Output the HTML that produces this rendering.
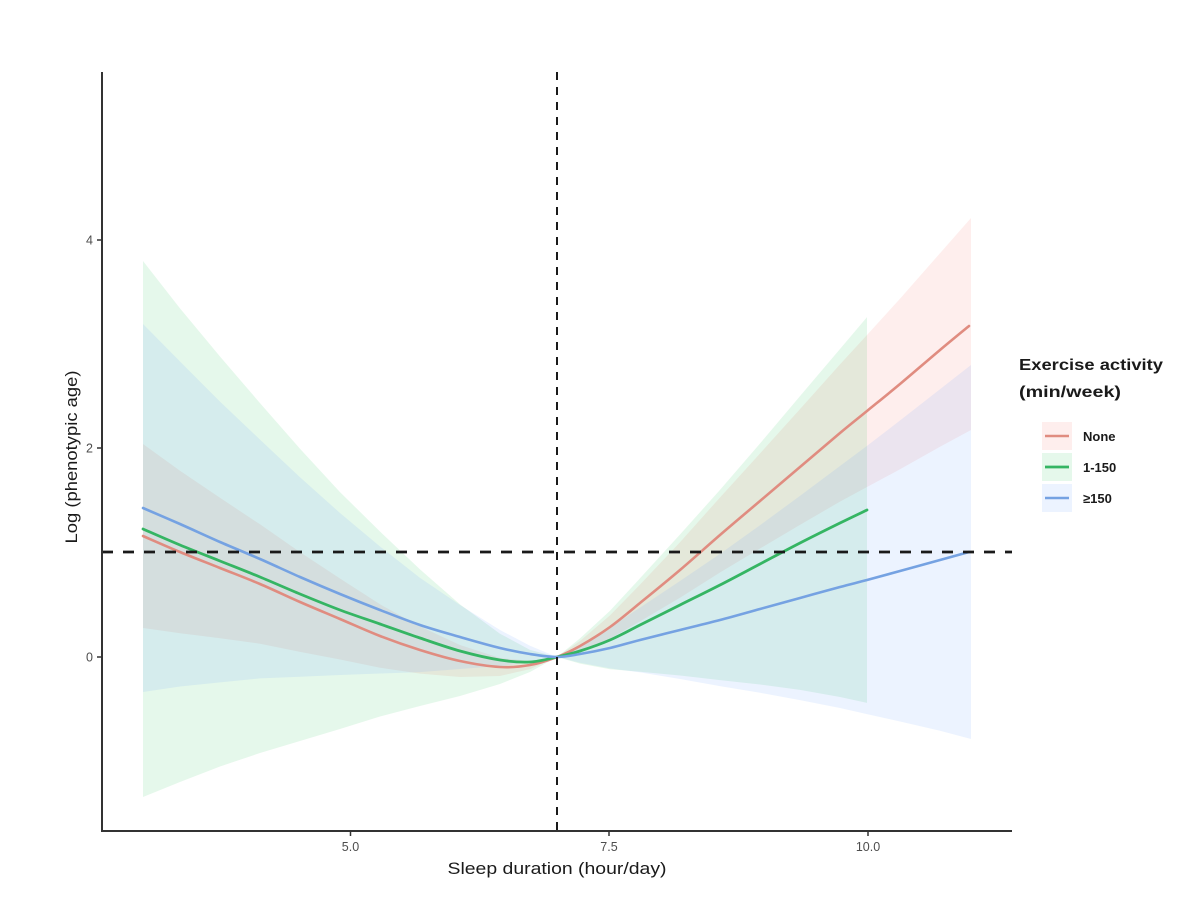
<!DOCTYPE html>
<html>
<head>
<meta charset="utf-8">
<style>
  html, body { margin: 0; padding: 0; background: #ffffff; }
  svg { display: block; }
  text { font-family: "Liberation Sans", "DejaVu Sans", sans-serif; }
</style>
</head>
<body>
<svg id="chart" width="1200" height="923" viewBox="0 0 1200 923" xmlns="http://www.w3.org/2000/svg">
  <rect x="0" y="0" width="1200" height="923" fill="#ffffff"/>

  <!-- Confidence bands -->
  <polygon fill="#F8766D" fill-opacity="0.12" points="143,444 180,470.8 220,497.8 260,524.3 300,552.1 340,578.5 380,604.3 420,626.4 460,645 500,658 530,660.9 557,657 580,641 610,615.4 640,584.6 680,542.2 720,497.5 760,453.5 800,409.1 840,364.4 867,335 900,298.7 940,253.2 971,218 971,430 940,446.8 900,469.3 867,487 840,501.6 800,524.9 760,548.5 720,572.5 680,597.8 640,621.4 610,638.6 580,651 557,657 530,669.1 500,676 460,677 420,673.6 380,667.7 340,659.5 300,651.9 260,643.7 220,638.2 180,633.2 143,628"/>
  <polygon fill="#00BA38" fill-opacity="0.10" points="143,261 180,308.4 220,356.5 260,403.1 300,448.7 340,492.1 380,531.5 420,569.4 460,604.4 500,633.7 530,649.9 557,657 580,638.4 610,610.7 640,578.3 680,534.5 720,489.9 760,443.5 800,396.1 840,349 867,317.1 867,702.9 840,697 800,689.9 760,684.5 720,680.1 680,675.5 640,671.7 610,669.3 580,663.6 557,657 530,672 500,684 460,696 420,706 380,716.5 340,729 300,741 260,753 220,766.5 180,782 143,797"/>
  <polygon fill="#619CFF" fill-opacity="0.12" points="143,324 180,361.5 220,401.6 260,439.6 300,477.3 340,513 380,546.5 420,577.9 460,605 500,630 530,645.7 557,657 580,645.3 610,627.6 640,607.6 680,581 720,553.9 760,525.2 800,495.9 840,466 867,445.9 900,420.5 940,389.2 971,365 971,739 940,730.8 900,721.5 867,714.1 840,708 800,700.1 760,692.8 720,686.1 680,679 640,672.4 610,668.4 580,662.7 557,657 530,662.3 500,666 460,669 420,672.1 380,673.5 340,675 300,676.7 260,678.4 220,682.4 180,686.5 143,692"/>

  <!-- Lines -->
  <polyline class="smooth" fill="none" stroke="#E08C80" stroke-width="2.6" stroke-linejoin="round" stroke-linecap="round" points="143,536 180,552 220,568 260,584 300,602 340,619 380,636 420,650 460,661 500,667 530,665 557,657 580,646 610,627 640,603 680,570 720,535 760,501 800,467 840,433 867,411 900,384 940,350 969,326"/>
  <polyline class="smooth" fill="none" stroke="#35B563" stroke-width="2.8" stroke-linejoin="round" stroke-linecap="round" points="143,529 180,545 220,561 260,577 300,594 340,610 380,624 420,638 460,651 500,660 530,662 557,657 580,651 610,640 640,625 680,605 720,585 760,564 800,543 840,523 867,510"/>
  <polyline class="smooth" fill="none" stroke="#75A2E2" stroke-width="2.6" stroke-linejoin="round" stroke-linecap="round" points="143,508 180,524 220,542 260,559 300,577 340,594 380,610 420,625 460,637 500,648 530,654 557,657 580,654 610,648 640,640 680,630 720,620 760,609 800,598 840,587 867,580 900,571 940,560 969,552"/>

  <!-- Reference dashed lines -->
  <line x1="102" y1="552" x2="1012" y2="552" stroke="#1a1a1a" stroke-width="2.8" stroke-dasharray="11 10"/>
  <line x1="557" y1="72" x2="557" y2="837" stroke="#1a1a1a" stroke-width="2" stroke-dasharray="8 7"/>

  <!-- Axes -->
  <line x1="102" y1="72" x2="102" y2="832" stroke="#333333" stroke-width="2"/>
  <line x1="101" y1="831" x2="1012" y2="831" stroke="#333333" stroke-width="2"/>

  <!-- Y ticks -->
  <line x1="97" y1="240" x2="102" y2="240" stroke="#333333" stroke-width="1.5"/>
  <line x1="97" y1="448" x2="102" y2="448" stroke="#333333" stroke-width="1.5"/>
  <line x1="97" y1="657" x2="102" y2="657" stroke="#333333" stroke-width="1.5"/>
  <text x="93" y="244.5" font-size="12.5" fill="#4D4D4D" text-anchor="end">4</text>
  <text x="93" y="452.5" font-size="12.5" fill="#4D4D4D" text-anchor="end">2</text>
  <text x="93" y="661.5" font-size="12.5" fill="#4D4D4D" text-anchor="end">0</text>

  <!-- X ticks -->
  <line x1="350.5" y1="831" x2="350.5" y2="836" stroke="#333333" stroke-width="1.5"/>
  <line x1="609" y1="831" x2="609" y2="836" stroke="#333333" stroke-width="1.5"/>
  <line x1="868" y1="831" x2="868" y2="836" stroke="#333333" stroke-width="1.5"/>
  <text x="350.5" y="851" font-size="12.5" fill="#4D4D4D" text-anchor="middle">5.0</text>
  <text x="609" y="851" font-size="12.5" fill="#4D4D4D" text-anchor="middle">7.5</text>
  <text x="868" y="851" font-size="12.5" fill="#4D4D4D" text-anchor="middle">10.0</text>

  <!-- Axis titles -->
  <text x="557" y="874" font-size="17" fill="#1a1a1a" text-anchor="middle" textLength="219" lengthAdjust="spacingAndGlyphs">Sleep duration (hour/day)</text>
  <text transform="translate(77,457) rotate(-90)" x="0" y="0" font-size="17" fill="#1a1a1a" text-anchor="middle" textLength="173" lengthAdjust="spacingAndGlyphs">Log (phenotypic age)</text>

  <!-- Legend -->
  <text x="1019" y="370" font-size="16" font-weight="bold" fill="#1a1a1a" textLength="144" lengthAdjust="spacingAndGlyphs">Exercise activity</text>
  <text x="1019" y="397" font-size="16" font-weight="bold" fill="#1a1a1a" textLength="102" lengthAdjust="spacingAndGlyphs">(min/week)</text>

  <rect x="1042" y="422" width="30" height="28" fill="#F8766D" fill-opacity="0.12"/>
  <line x1="1045" y1="436" x2="1069" y2="436" stroke="#E08C80" stroke-width="2.6"/>
  <text x="1083" y="441" font-size="13" font-weight="bold" fill="#1a1a1a">None</text>

  <rect x="1042" y="453" width="30" height="28" fill="#00BA38" fill-opacity="0.10"/>
  <line x1="1045" y1="467" x2="1069" y2="467" stroke="#35B563" stroke-width="2.8"/>
  <text x="1083" y="472" font-size="13" font-weight="bold" fill="#1a1a1a">1-150</text>

  <rect x="1042" y="484" width="30" height="28" fill="#619CFF" fill-opacity="0.12"/>
  <line x1="1045" y1="498" x2="1069" y2="498" stroke="#75A2E2" stroke-width="2.6"/>
  <text x="1083" y="503" font-size="13" font-weight="bold" fill="#1a1a1a">≥150</text>
</svg>
<script>
(function(){
  var ns = "http://www.w3.org/2000/svg";
  var pls = document.querySelectorAll("polyline.smooth");
  for (var k = 0; k < pls.length; k++) {
    var pl = pls[k];
    var raw = pl.getAttribute("points").trim().split(/\s+/);
    var p = raw.map(function(s){ var a = s.split(","); return [parseFloat(a[0]), parseFloat(a[1])]; });
    var d = "M" + p[0][0] + "," + p[0][1];
    for (var i = 0; i < p.length - 1; i++) {
      var p0 = p[i - 1] || p[i], p1 = p[i], p2 = p[i + 1], p3 = p[i + 2] || p[i + 1];
      var c1x = p1[0] + (p2[0] - p0[0]) / 6, c1y = p1[1] + (p2[1] - p0[1]) / 6;
      var c2x = p2[0] - (p3[0] - p1[0]) / 6, c2y = p2[1] - (p3[1] - p1[1]) / 6;
      d += " C" + c1x.toFixed(2) + "," + c1y.toFixed(2) + " " + c2x.toFixed(2) + "," + c2y.toFixed(2) + " " + p2[0] + "," + p2[1];
    }
    var path = document.createElementNS(ns, "path");
    path.setAttribute("d", d);
    ["fill","stroke","stroke-width","stroke-linejoin","stroke-linecap"].forEach(function(a){
      if (pl.getAttribute(a)) path.setAttribute(a, pl.getAttribute(a));
    });
    pl.parentNode.replaceChild(path, pl);
  }
})();
</script>
</body>
</html>
